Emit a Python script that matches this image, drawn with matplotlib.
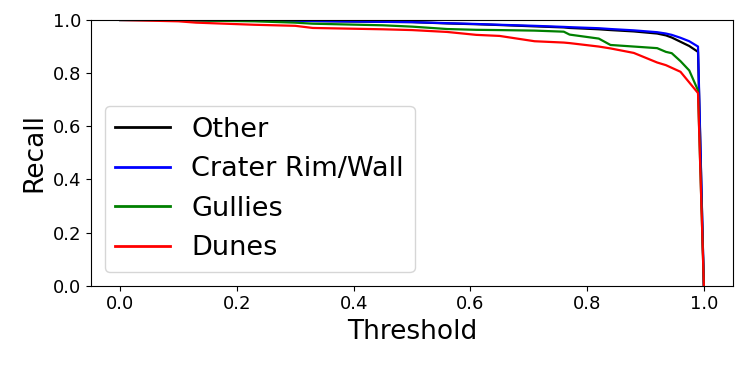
import matplotlib
matplotlib.use("Agg")
import matplotlib.pyplot as plt

thresholds = [0.0, 0.1, 0.13, 0.23, 0.3, 0.33, 0.45, 0.5, 0.56, 0.61, 0.65, 0.71,
              0.76, 0.77, 0.82, 0.84, 0.88, 0.92, 0.935, 0.945, 0.96, 0.975, 0.99, 1.0]

recall_other = [1.0, 1.0, 0.999, 0.998, 0.997, 0.996, 0.993, 0.992, 0.987, 0.984, 0.981,
                0.976, 0.972, 0.970, 0.965, 0.962, 0.957, 0.949, 0.942, 0.934, 0.918,
                0.902, 0.880, 0.0]
recall_crater = [1.0, 1.0, 0.999, 0.998, 0.997, 0.996, 0.993, 0.992, 0.988, 0.985, 0.982,
                 0.978, 0.974, 0.973, 0.969, 0.966, 0.961, 0.954, 0.949, 0.944, 0.933,
                 0.920, 0.900, 0.0]
recall_gullies = [1.0, 1.0, 0.998, 0.995, 0.990, 0.986, 0.980, 0.975, 0.966, 0.963, 0.962,
                  0.960, 0.956, 0.945, 0.930, 0.906, 0.900, 0.894, 0.880, 0.875, 0.845,
                  0.810, 0.735, 0.0]
recall_dunes = [1.0, 0.995, 0.990, 0.982, 0.978, 0.970, 0.965, 0.962, 0.955, 0.944, 0.940,
                0.920, 0.915, 0.913, 0.900, 0.893, 0.876, 0.840, 0.830, 0.820, 0.805,
                0.765, 0.725, 0.0]

labels = ["Other", "Crater Rim/Wall", "Gullies", "Dunes"]
colors = ["black", "blue", "green", "red"]

fig = plt.figure(figsize=(7.47, 3.66), dpi=100)
ax = fig.add_axes([0.1218, 0.2194, 0.8595, 0.7260])

for y, lab, c in zip([recall_other, recall_crater, recall_gullies, recall_dunes], labels, colors):
    ax.plot(thresholds, y, color=c, linewidth=1.6, label=lab)

ax.set_ylim(0, 1.0)
ax.set_xlabel("Threshold", fontsize=19)
ax.set_ylabel("Recall", fontsize=19)
ax.tick_params(labelsize=13)
leg = ax.legend(loc="lower left", fontsize=19.5)
for line in leg.get_lines():
    line.set_linewidth(2)

fig.savefig("out.png", dpi=100)
